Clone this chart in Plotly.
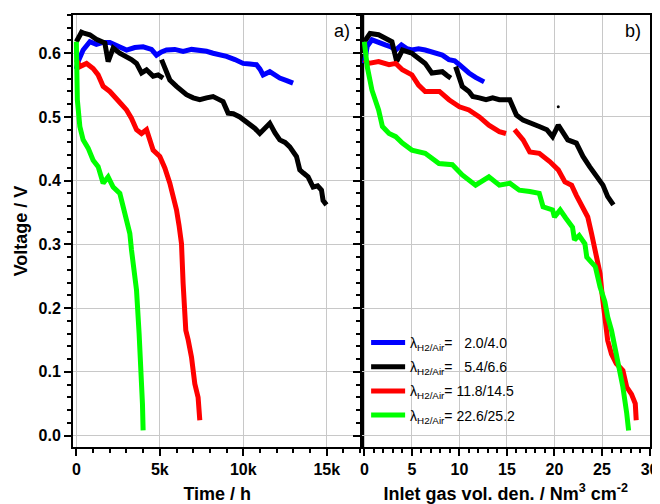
import plotly.graph_objects as go

# ---------------- data: panel a) voltage vs time (h) ----------------
t_blue = [0, 108, 407, 808, 1200, 1605, 2006, 2500, 3006, 3500, 4000, 4500, 4800, 5100, 5400, 5900, 6395, 6900, 7395, 7800, 8190, 8600, 8994, 9500, 9988, 10400, 10790, 11000, 11186, 11587, 11900, 12185, 12600, 12982]
v_blue = [0.575, 0.587, 0.605, 0.618, 0.614, 0.617, 0.617, 0.610, 0.605, 0.609, 0.610, 0.606, 0.597, 0.602, 0.605, 0.606, 0.603, 0.606, 0.605, 0.603, 0.600, 0.598, 0.595, 0.590, 0.584, 0.583, 0.582, 0.575, 0.566, 0.571, 0.566, 0.561, 0.557, 0.553]

t_black = [0, 150, 311, 500, 808, 1200, 1509, 1707, 1904, 2204, 2600, 3006, 3300, 3605, 3904, 4204, 4599, 4900, 5198,
           None,
           5102, 5350, 5600, 6000, 6300, 6599, 7000, 7395, 7800, 8190, 8500, 8790, 9090, 9400, 9790, 10100, 10389, 10700, 10988, 11300, 11587, 11900, 12185, 12500, 12784, 13186, 13383, 13600, 13880, 14180, 14450, 14683, 14778, 14982]
v_black = [0.618, 0.625, 0.633, 0.631, 0.629, 0.622, 0.618, 0.616, 0.587, 0.608, 0.600, 0.595, 0.590, 0.584, 0.569, 0.574, 0.564, 0.566, 0.561,
           None,
           0.590, 0.572, 0.558, 0.548, 0.542, 0.535, 0.530, 0.527, 0.530, 0.532, 0.528, 0.524, 0.506, 0.505, 0.500, 0.494, 0.487, 0.482, 0.474, 0.482, 0.490, 0.475, 0.464, 0.460, 0.453, 0.438, 0.417, 0.412, 0.406, 0.390, 0.392, 0.385, 0.369, 0.362]

t_red = [0, 210, 611, 1006, 1305, 1605, 2006, 2407, 2700, 3006, 3300, 3605, 3904, 4204, 4599, 5000, 5300, 5599, 6000, 6150, 6299, 6395, 6480, 6557, 6700, 6898, 7096, 7293, 7395]
v_red = [0.590, 0.579, 0.584, 0.576, 0.566, 0.548, 0.540, 0.527, 0.520, 0.511, 0.498, 0.480, 0.474, 0.480, 0.448, 0.438, 0.420, 0.396, 0.354, 0.330, 0.301, 0.239, 0.200, 0.165, 0.150, 0.123, 0.081, 0.060, 0.024]

t_green = [0, 30, 60, 210, 407, 707, 1006, 1305, 1605, 1904, 2204, 2605, 2904, 3204, 3305, 3450, 3605, 3760, 3904, 3960, 4000]
v_green = [0.618, 0.579, 0.527, 0.485, 0.464, 0.451, 0.432, 0.422, 0.396, 0.406, 0.390, 0.380, 0.349, 0.317, 0.291, 0.260, 0.228, 0.160, 0.102, 0.050, 0.008]

# ---------------- data: panel b) voltage vs inlet gas vol. den. ----------------
g_blue = [0.0, 0.3, 0.8, 1.5, 2.2, 2.8, 3.3, 3.9, 4.5, 5.0, 5.7, 6.4, 7.3, 8.2, 8.9, 9.5, 10.0, 10.5, 11.0, 11.7, 12.4, 12.6]
u_blue = [0.584, 0.611, 0.621, 0.616, 0.613, 0.610, 0.605, 0.613, 0.607, 0.605, 0.607, 0.605, 0.601, 0.597, 0.590, 0.588, 0.582, 0.575, 0.569, 0.562, 0.556, 0.555]

g_black = [0.0, 0.6, 1.5, 2.2, 2.9, 3.4, 4.0, 5.0, 5.7, 6.4, 7.1, 8.2, 8.7, 9.1,
           None,
           9.6, 10.3, 11.0, 11.4, 12.1, 12.8, 13.5, 14.2, 15.3, 16.0, 16.7, 17.4, 18.4, 19.2, 19.8, 20.4, 21.4, 22.3, 23.0, 23.7, 24.4, 25.1, 25.6, 26.2]
u_black = [0.618, 0.631, 0.629, 0.624, 0.618, 0.587, 0.605, 0.600, 0.592, 0.584, 0.569, 0.571, 0.565, 0.561,
           None,
           0.579, 0.548, 0.540, 0.532, 0.530, 0.527, 0.530, 0.527, 0.527, 0.503, 0.495, 0.490, 0.485, 0.480, 0.469, 0.487, 0.464, 0.459, 0.438, 0.422, 0.406, 0.393, 0.375, 0.362]

g_red = [0.0, 0.45, 1.5, 2.6, 3.3, 4.0, 5.0, 5.7, 6.4, 7.9, 8.9, 10.0, 11.0, 12.1, 13.1, 14.2, 14.9,
         None,
         15.8, 16.7, 17.4, 18.4, 19.5, 20.4, 21.1, 21.8, 22.3, 23.0, 23.5, 23.9, 24.4, 24.8, 25.0, 25.3, 25.6, 26.0, 26.5, 27.2, 27.6, 28.1, 28.5, 28.6]
u_red = [0.590, 0.584, 0.587, 0.582, 0.584, 0.574, 0.566, 0.550, 0.540, 0.540, 0.527, 0.516, 0.511, 0.500, 0.487, 0.477, 0.474,
         None,
         0.480, 0.464, 0.445, 0.443, 0.430, 0.417, 0.398, 0.393, 0.377, 0.359, 0.343, 0.317, 0.280, 0.254, 0.223, 0.181, 0.149, 0.128, 0.113, 0.102, 0.076, 0.065, 0.050, 0.024]

g_green = [0.0, 0.3, 0.8, 1.5, 1.9, 2.6, 3.3, 4.0, 5.0, 6.4, 7.85, 9.26, 10.3, 11.4, 11.7, 13.1, 14.2, 15.3, 16.3, 17.4, 18.4, 18.8, 19.8, 20.0, 20.6, 21.2, 21.9, 22.1, 22.6, 23.2, 23.4, 24.3, 24.8, 25.3, 25.6, 26.0, 26.5, 27.2, 27.6, 27.8]
u_green = [0.618, 0.579, 0.542, 0.511, 0.485, 0.474, 0.469, 0.459, 0.448, 0.443, 0.427, 0.425, 0.409, 0.398, 0.393, 0.406, 0.393, 0.396, 0.385, 0.383, 0.380, 0.359, 0.354, 0.343, 0.354, 0.341, 0.327, 0.307, 0.314, 0.301, 0.280, 0.265, 0.233, 0.210, 0.186, 0.165, 0.129, 0.076, 0.035, 0.008]

# stray single point on panel b)
g_dot = [20.4]
u_dot = [0.516]

labels = ["λ<sub>H2/Air</sub>=\u00a0\u00a0\u00a02.0/4.0",
          "λ<sub>H2/Air</sub>=\u00a0\u00a0\u00a05.4/6.6",
          "λ<sub>H2/Air</sub>=\u00a011.8/14.5",
          "λ<sub>H2/Air</sub>=\u00a022.6/25.2"]
colors = ["#0000ff", "#000000", "#ff0000", "#00ff00"]

time_tickvals = [0, 5000, 10000, 15000]
time_ticktext = ["0", "5k", "10k", "15k"]
gas_tickvals = [0, 5, 10, 15, 20, 25, 30]
volt_tickvals = [0.0, 0.1, 0.2, 0.3, 0.4, 0.5, 0.6]
volt_ticktext = ["0.0", "0.1", "0.2", "0.3", "0.4", "0.5", "0.6"]

left_series = [(t_blue, v_blue), (t_black, v_black), (t_red, v_red), (t_green, v_green)]
right_series = [(g_blue, u_blue), (g_black, u_black), (g_red, u_red), (g_green, u_green)]

fig = go.Figure()
for (x, y), c in zip(left_series, colors):
    fig.add_trace(go.Scatter(x=x, y=y, mode="lines", line=dict(color=c, width=5),
                             connectgaps=False, showlegend=False, xaxis="x", yaxis="y"))
for i, ((x, y), c, lab) in enumerate(zip(right_series, colors, labels)):
    fig.add_trace(go.Scatter(x=x, y=y, mode="lines", line=dict(color=c, width=5),
                             connectgaps=False, name=lab, legendgroup="g%d" % i,
                             xaxis="x2", yaxis="y2"))
fig.add_trace(go.Scatter(x=g_dot, y=u_dot, mode="markers", marker=dict(color="black", size=3),
                         showlegend=False, xaxis="x2", yaxis="y2"))

tick_font = dict(family="Liberation Sans, Arial, sans-serif", size=16, color="black", weight="bold")
title_font = dict(family="Liberation Sans, Arial, sans-serif", size=18, color="black", weight="bold")
grid_c = "#c8c8c8"

common_x = dict(showline=True, linecolor="black", linewidth=2, mirror=True,
                ticks="outside", ticklen=7, tickwidth=2, tickcolor="black",
                showgrid=True, gridcolor=grid_c, gridwidth=1, zeroline=False,
                automargin=False, tickfont=tick_font, title_font=title_font)

fig.update_layout(
    width=652, height=496,
    margin=dict(l=65, r=10, t=7, b=57),
    paper_bgcolor="white", plot_bgcolor="white",
    font=dict(family="Liberation Sans, Arial, sans-serif", color="black"),
    xaxis=dict(domain=[0, 0.5], range=[-200, 17080], tickmode="array",
               tickvals=time_tickvals, ticktext=time_ticktext,
               minor=dict(tickmode="linear", tick0=0, dtick=1000, ticks="outside", ticklen=4,
                          tickwidth=2, tickcolor="black", showgrid=False),
               title=dict(text="Time / h", standoff=10), anchor="y", **common_x),
    xaxis2=dict(domain=[0.5, 1], range=[-0.3, 30.05], tickmode="array",
                tickvals=gas_tickvals,
                minor=dict(tickmode="linear", tick0=0, dtick=1, ticks="outside", ticklen=4,
                           tickwidth=2, tickcolor="black", showgrid=False),
                title=dict(text="Inlet gas vol. den. / Nm<sup>3</sup> cm<sup>-2</sup>", standoff=10),
                anchor="y2", **common_x),
    yaxis=dict(domain=[0, 1], range=[-0.018, 0.660], tickmode="array",
               tickvals=volt_tickvals, ticktext=volt_ticktext,
               minor=dict(tickmode="linear", tick0=0, dtick=0.02, ticks="outside", ticklen=4,
                          tickwidth=2, tickcolor="black", showgrid=False),
               title=dict(text="Voltage / V", standoff=6), anchor="x", **common_x),
    yaxis2=dict(domain=[0, 1], matches="y", range=[-0.018, 0.660], tickmode="array",
                tickvals=volt_tickvals, showticklabels=False,
                minor=dict(tickmode="linear", tick0=0, dtick=0.02, ticks="outside", ticklen=4,
                           tickwidth=2, tickcolor="black", showgrid=False),
                anchor="x2", **common_x),
    legend=dict(x=0.508, y=0.278, xanchor="left", yanchor="top", bgcolor="rgba(0,0,0,0)",
                font=dict(family="Liberation Sans, Arial, sans-serif", size=14, color="black"),
                itemwidth=34, tracegroupgap=3),
    annotations=[
        dict(text="a)", xref="paper", yref="paper", x=0.4835, y=0.963, xanchor="right",
             yanchor="middle", showarrow=False,
             font=dict(family="Liberation Sans, Arial, sans-serif", size=18, color="black")),
        dict(text="b)", xref="paper", yref="paper", x=0.988, y=0.963, xanchor="right",
             yanchor="middle", showarrow=False,
             font=dict(family="Liberation Sans, Arial, sans-serif", size=18, color="black")),
    ],
)

fig.write_html("out.html")
